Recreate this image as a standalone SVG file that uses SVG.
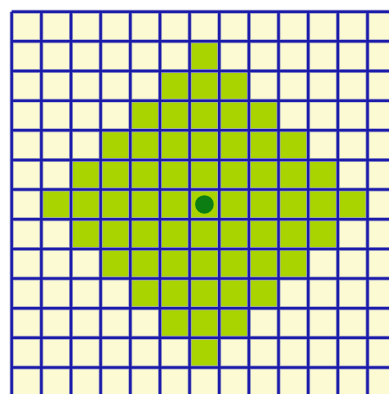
<svg xmlns="http://www.w3.org/2000/svg" width="389" height="394" viewBox="0 0 389 394">
<style>
.bg{fill:#fcfad2}
.g{fill:#aad400}
.ln{stroke:#a0a0c8;stroke-width:4;fill:none}
.lk{stroke:#1a1aaa;stroke-width:2.5;fill:none}
.dot{fill:#0b7d12}
</style>
<defs>
<path id="grid" d="M0 0V390M30 0V390M60 0V390M90 0V390M120 0V390M150 0V390M180 0V390M210 0V390M240 0V390M270 0V390M300 0V390M330 0V390M360 0V390M390 0V390M0 0H390M0 30H390M0 60H390M0 90H390M0 120H390M0 150H390M0 180H390M0 210H390M0 240H390M0 270H390M0 300H390M0 330H390M0 360H390M0 390H390"/>
</defs>
<rect width="389" height="394" fill="#ffffff"/>
<g id="board" transform="translate(11.7,11.7) scale(0.9883)">
<rect class="bg" x="0" y="0" width="390" height="390"/>
<g id="diamond">
<rect class="g" x="180" y="30" width="30" height="30"/>
<rect class="g" x="150" y="60" width="90" height="30"/>
<rect class="g" x="120" y="90" width="150" height="30"/>
<rect class="g" x="90" y="120" width="210" height="30"/>
<rect class="g" x="60" y="150" width="270" height="30"/>
<rect class="g" x="30" y="180" width="330" height="30"/>
<rect class="g" x="60" y="210" width="270" height="30"/>
<rect class="g" x="90" y="240" width="210" height="30"/>
<rect class="g" x="120" y="270" width="150" height="30"/>
<rect class="g" x="150" y="300" width="90" height="30"/>
<rect class="g" x="180" y="330" width="30" height="30"/>
</g>
<g id="gridlines">
<use href="#grid" class="ln"/>
<use href="#grid" class="lk"/>
</g>
<circle id="center" class="dot" cx="195" cy="195" r="9.4"/>
</g>
</svg>
